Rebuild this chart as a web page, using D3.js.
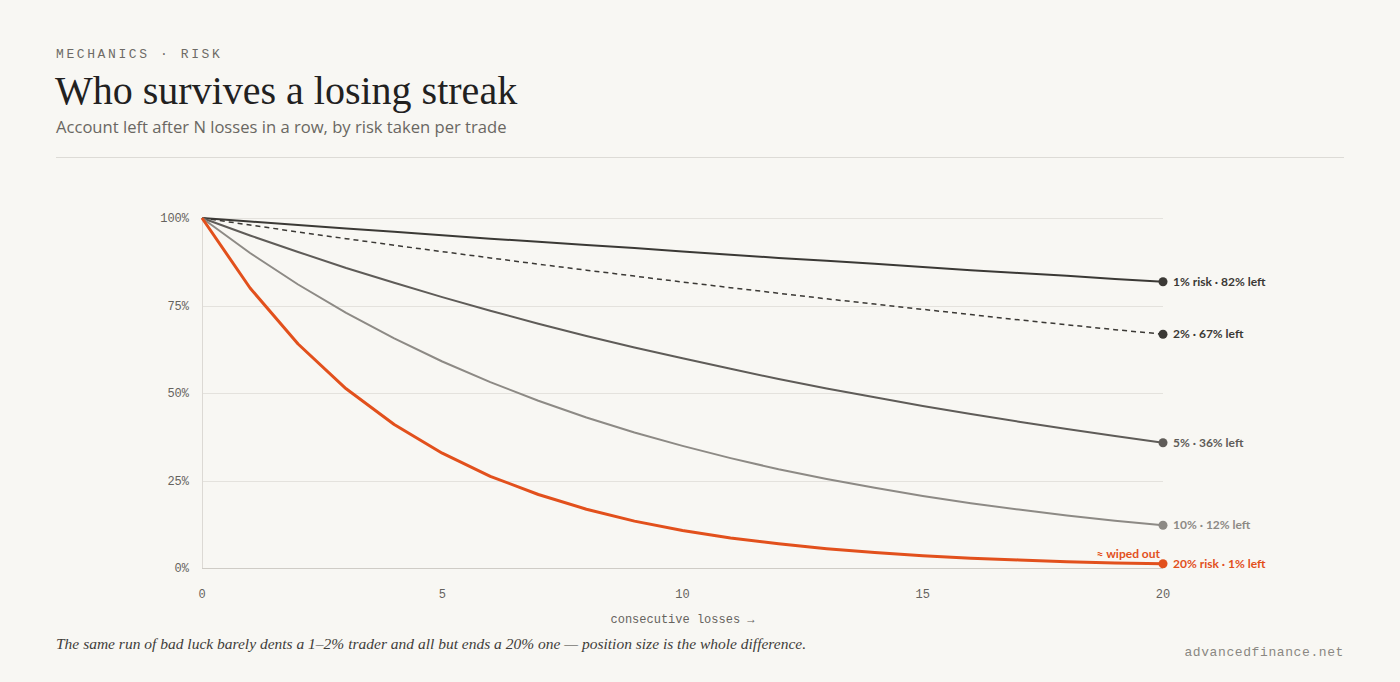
<!DOCTYPE html>
<html>
<head>
<meta charset="utf-8">
<script src="https://cdn.jsdelivr.net/npm/d3@7"></script>
<style>
  html, body { margin: 0; padding: 0; background: #f8f7f3; }
  svg { display: block; }
</style>
</head>
<body>
<svg width="1400" height="682"></svg>
<script>
// Data: account left (fraction) after n losses in a row
const losses = d3.range(0, 21);
const risk1 = [1, .99, .980, .970, .961, .951, .941, .932, .923, .914, .904, .895, .886, .878, .869, .860, .851, .843, .835, .826, .818];
const risk2 = [1, .98, .960, .941, .922, .904, .886, .868, .851, .834, .817, .801, .785, .769, .754, .739, .724, .709, .695, .681, .668];
const risk5 = [1, .95, .903, .857, .815, .774, .735, .698, .663, .630, .599, .569, .540, .513, .488, .463, .440, .418, .397, .377, .358];
const risk10 = [1, .90, .810, .729, .656, .590, .531, .478, .430, .387, .349, .314, .282, .254, .229, .206, .185, .167, .150, .135, .122];
const risk20 = [1, .80, .640, .512, .410, .328, .262, .210, .168, .134, .107, .086, .069, .055, .044, .035, .028, .023, .018, .014, .012];
const seriesLabels = ["1% risk · 82% left", "2% · 67% left", "5% · 36% left", "10% · 12% left", "20% risk · 1% left"];
const yTicks = [0, 0.25, 0.5, 0.75, 1];
const xTicks = [0, 5, 10, 15, 20];

const series = [
  { values: risk1, label: seriesLabels[0], color: "#3b3935", width: 2, dash: null },
  { values: risk2, label: seriesLabels[1], color: "#3b3935", width: 1.5, dash: "5,4" },
  { values: risk5, label: seriesLabels[2], color: "#5f5c58", width: 2, dash: null },
  { values: risk10, label: seriesLabels[3], color: "#8d8a85", width: 2, dash: null },
  { values: risk20, label: seriesLabels[4], color: "#e2501c", width: 3, dash: null }
];

const svg = d3.select("svg");
const mono = "'Liberation Mono', 'DejaVu Sans Mono', monospace";
const sans = "Lato, 'Noto Sans', sans-serif";
const serif = "'Liberation Serif', 'DejaVu Serif', serif";

// Header
svg.append("text").attr("x", 56).attr("y", 58)
  .attr("font-family", mono).attr("font-size", 13).attr("letter-spacing", 2.6)
  .attr("fill", "#6e6b66").text("MECHANICS · RISK");
svg.append("text").attr("x", 55).attr("y", 104)
  .attr("font-family", serif).attr("font-size", 40)
  .attr("fill", "#22211f").text("Who survives a losing streak");
svg.append("text").attr("x", 56).attr("y", 133)
  .attr("font-family", "'Open Sans', 'Noto Sans', sans-serif").attr("font-size", 16.6)
  .attr("fill", "#6a6762").text("Account left after N losses in a row, by risk taken per trade");
svg.append("line").attr("x1", 56).attr("x2", 1344).attr("y1", 157.5).attr("y2", 157.5)
  .attr("stroke", "#dddbd6").attr("stroke-width", 1);

// Scales
const x = d3.scaleLinear().domain([0, 20]).range([202, 1163]);
const y = d3.scaleLinear().domain([0, 1]).range([568, 218]);

// Grid
const g = svg.append("g");
g.selectAll("line.grid").data(yTicks).join("line")
  .attr("x1", x(0)).attr("x2", x(20))
  .attr("y1", d => Math.round(y(d)) + 0.5).attr("y2", d => Math.round(y(d)) + 0.5)
  .attr("stroke", d => d === 0 ? "#cfccc6" : "#e4e2dd").attr("stroke-width", 1);
g.append("line").attr("x1", x(0) + 0.5).attr("x2", x(0) + 0.5)
  .attr("y1", y(1)).attr("y2", y(0)).attr("stroke", "#dcd9d4");

g.selectAll("text.ytick").data(yTicks).join("text")
  .attr("x", 189).attr("y", d => y(d) + 4)
  .attr("text-anchor", "end").attr("font-family", mono).attr("font-size", 12)
  .attr("fill", "#66635e").text(d => d3.format(".0%")(d));
g.selectAll("text.xtick").data(xTicks).join("text")
  .attr("x", d => x(d)).attr("y", 598)
  .attr("text-anchor", "middle").attr("font-family", mono).attr("font-size", 12)
  .attr("fill", "#66635e").text(d => d);
g.append("text").attr("x", x(10)).attr("y", 623)
  .attr("text-anchor", "middle").attr("font-family", mono).attr("font-size", 12)
  .attr("fill", "#66635e").text("consecutive losses →");

// Lines
const line = d3.line().x((d, i) => x(losses[i])).y(d => y(d)).curve(d3.curveLinear);
series.forEach(s => {
  svg.append("path").datum(s.values)
    .attr("d", line).attr("fill", "none")
    .attr("stroke", s.color).attr("stroke-width", s.width)
    .attr("stroke-linejoin", "round")
    .attr("stroke-dasharray", s.dash);
  const last = s.values[s.values.length - 1];
  svg.append("circle").attr("cx", x(20)).attr("cy", y(last)).attr("r", 4.5)
    .attr("fill", s.color);
  svg.append("text").attr("x", x(20) + 10).attr("y", y(last) + 4)
    .attr("font-family", sans).attr("font-weight", 700).attr("font-size", 12)
    .attr("fill", s.color).text(s.label);
});

svg.append("text").attr("x", x(20) - 3).attr("y", y(risk20[20]) - 6)
  .attr("text-anchor", "end")
  .attr("font-family", sans).attr("font-weight", 700).attr("font-size", 12)
  .attr("fill", "#e2501c").text("≈ wiped out");

// Footer
svg.append("text").attr("x", 56).attr("y", 649)
  .attr("font-family", serif).attr("font-style", "italic").attr("font-size", 15.5)
  .attr("fill", "#3f3d3a")
  .text("The same run of bad luck barely dents a 1–2% trader and all but ends a 20% one — position size is the whole difference.");
svg.append("text").attr("x", 1344).attr("y", 656)
  .attr("text-anchor", "end").attr("font-family", mono).attr("font-size", 13)
  .attr("letter-spacing", 0.6)
  .attr("fill", "#8a8782").text("advancedfinance.net");
</script>
</body>
</html>
